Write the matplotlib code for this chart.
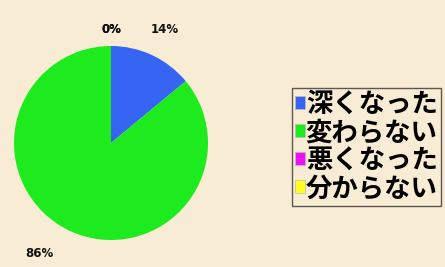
import matplotlib
matplotlib.use("Agg")
import matplotlib.pyplot as plt
import numpy as np

plt.rcParams['font.family'] = ['Noto Sans CJK JP', 'DejaVu Sans']

categories = ['深くなった', '変わらない', '悪くなった', '分からない']
values = [14, 86, 0, 0]
pct_labels = ['14%', '86%', '0%', '0%']
colors = ['#3565F2', '#1EEB1E', '#F011F0', '#FFFF22']
bg = '#F8ECD4'

fig = plt.figure(figsize=(4.45, 2.67), dpi=100, facecolor=bg)
W, H = 445, 267
cx, cy, r = 111, 124, 97
size = 300
ax = fig.add_axes([(cx - size / 2) / W, (cy - size / 2) / H, size / W, size / H])
ax.set_facecolor('none')
wedges, _ = ax.pie(values, colors=colors, startangle=90, counterclock=False,
                   radius=r / (size / 2), wedgeprops=dict(linewidth=0))
ax.set_xlim(-1, 1)
ax.set_ylim(-1, 1)
ax.set_aspect('equal')
ax.axis('off')

dist = {0: 1.29, 1: 1.36, 2: 1.17, 3: 1.17}
for i, w in enumerate(wedges):
    ang = np.deg2rad((w.theta1 + w.theta2) / 2)
    if i == 1:
        ang = np.deg2rad(-123)
    d = dist[i] * r / (size / 2)
    ax.text(d * np.cos(ang), d * np.sin(ang), pct_labels[i], ha='center', va='center',
            fontsize=8.5, fontweight='bold', family='DejaVu Sans', color='#111111')

handles = [plt.Rectangle((0, 0), 1, 1, facecolor=c, edgecolor='#bbbbbb', linewidth=0.5) for c in colors]
leg = fig.legend(handles, categories, loc='upper left',
                 bbox_to_anchor=(292 / W, (H - 88) / H), bbox_transform=fig.transFigure,
                 fontsize=19, frameon=True, fancybox=False, handlelength=0.38, handleheight=0.38,
                 handletextpad=0.02, labelspacing=0.04, borderpad=0.12, borderaxespad=0)
leg.get_frame().set_facecolor(bg)
leg.get_frame().set_edgecolor('#333333')
leg.get_frame().set_linewidth(1.0)
for t in leg.get_texts():
    t.set_fontweight('bold')

fig.savefig('out.png', dpi=100, facecolor=bg)
